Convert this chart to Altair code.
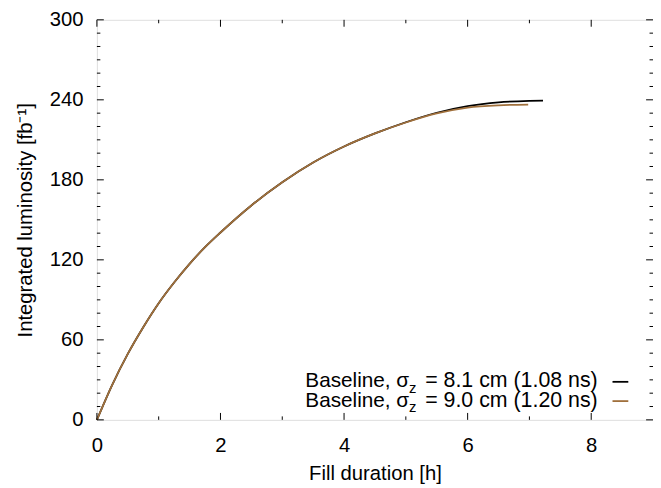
import altair as alt
import pandas as pd

# ---- data ----
hours_81 = [0, 0.25, 0.5, 0.75, 1.0, 1.25, 1.5, 1.75, 2.0, 2.5, 3.0, 3.5, 4.0, 4.5, 5.0, 5.5, 6.0, 6.5, 7.0, 7.22]
lumi_81 = [0, 26.5, 49.5, 69.5, 87.5, 103, 117, 129.5, 140.5, 160.8, 178.2, 193, 205, 214.8, 223.2, 230.3, 235.3, 238.1, 239.2, 239.4]
hours_90 = [0, 0.25, 0.5, 0.75, 1.0, 1.25, 1.5, 1.75, 2.0, 2.5, 3.0, 3.5, 4.0, 4.5, 5.0, 5.5, 6.0, 6.5, 6.98]
lumi_90 = [0, 26.5, 49.5, 69.5, 87.5, 103, 117, 129.5, 140.5, 160.8, 178.2, 193, 205, 214.8, 223.0, 229.8, 234.2, 235.9, 236.4]

series_labels = ["8.1 cm (1.08 ns)", "9.0 cm (1.20 ns)"]
series_colors = ["#000000", "#a0703c"]

x_major = [0, 2, 4, 6, 8]
x_minor = [1, 3, 5, 7]
y_major = [0, 60, 120, 180, 240, 300]
y_minor = [v for v in range(10, 300, 10) if v % 60]

W, H = 563, 405
FONT = "Liberation Sans"
FS = 20.5

xs = alt.Scale(domain=[0, 9], nice=False, zero=False)
ys = alt.Scale(domain=[0, 300], nice=False, zero=False)

x_axis = alt.Axis(values=x_major, format="d", ticks=False, tickSize=0, domain=False, grid=False,
                  labelFont=FONT, labelFontSize=FS, labelColor="black", labelFlush=False,
                  labelBaseline="alphabetic", labelPadding=32,
                  title="Fill duration [h]", titleFont=FONT, titleFontSize=FS,
                  titleFontWeight="normal", titleColor="black", titleY=60,
                  titleBaseline="alphabetic")
y_axis = alt.Axis(values=y_major, format="d", ticks=False, tickSize=0, domain=False, grid=False,
                  labelFont=FONT, labelFontSize=FS, labelColor="black", labelPadding=14,
                  title="Integrated luminosity [fb⁻¹]", titleFont=FONT, titleFontSize=FS,
                  titleFontWeight="normal", titleColor="black", titleX=-66, titleY=H / 2,
                  titleAngle=-90, titleBaseline="alphabetic", titleAlign="center")

X = alt.X("t:Q", scale=xs, axis=x_axis)
Y = alt.Y("L:Q", scale=ys, axis=y_axis)

df81 = pd.DataFrame({"t": hours_81, "L": lumi_81})
df90 = pd.DataFrame({"t": hours_90, "L": lumi_90})

line81 = alt.Chart(df81).mark_line(color=series_colors[0], strokeWidth=1.8, interpolate="monotone").encode(x=X, y=Y)
line90 = alt.Chart(df90).mark_line(color=series_colors[1], strokeWidth=1.8, interpolate="monotone").encode(x=X, y=Y)

layers = [line81, line90]


def xticks(vals, length):
    d = pd.DataFrame({"t": vals})
    bottom = alt.Chart(d).mark_rule(color="black", strokeWidth=1).encode(
        x=X, y=alt.value(H), y2=alt.value(H - length))
    top = alt.Chart(d).mark_rule(color="black", strokeWidth=1).encode(
        x=X, y=alt.value(0), y2=alt.value(length))
    return [bottom, top]


def yticks(vals, length):
    d = pd.DataFrame({"L": vals})
    left = alt.Chart(d).mark_rule(color="black", strokeWidth=1).encode(
        y=Y, x=alt.value(0), x2=alt.value(length))
    right = alt.Chart(d).mark_rule(color="black", strokeWidth=1).encode(
        y=Y, x=alt.value(W), x2=alt.value(W - length))
    return [left, right]


layers += xticks(x_major, 7) + xticks(x_minor, 3.5) + yticks(y_major, 7) + yticks(y_minor, 3.5)

# ---- manual key (lower right) ----
for i, (lab, col) in enumerate(zip(series_labels, series_colors)):
    base = 372 + 19.5 * i
    d = pd.DataFrame({"label": [lab]})
    a = alt.Chart(d).mark_text(font=FONT, fontSize=21, align="left", baseline="alphabetic", color="black").encode(
        x=alt.value(211), y=alt.value(base), text=alt.value("Baseline, σ"))
    z = alt.Chart(d).mark_text(font=FONT, fontSize=15, align="left", baseline="alphabetic", color="black").encode(
        x=alt.value(316), y=alt.value(base + 6), text=alt.value("z"))
    c = alt.Chart(d).transform_calculate(txt="'= ' + datum.label").mark_text(
        font=FONT, fontSize=21.6, align="right", baseline="alphabetic", color="black").encode(
        x=alt.value(507), y=alt.value(base), text=alt.Text("txt:N"))
    s = alt.Chart(d).mark_rule(color=col, strokeWidth=1.8).encode(
        x=alt.value(522), x2=alt.value(538), y=alt.value(base - 5.5))
    layers += [a, z, c, s]

chart = alt.layer(*layers).properties(
    width=W, height=H,
    autosize=alt.AutoSizeParams(type="none"),
    padding={"left": 90, "top": 9, "right": 0, "bottom": 64},
).configure_view(stroke="#222222", strokeWidth=1.2).configure(background="white")

chart.save("out.html", embed_options={"renderer": "svg", "actions": False})
